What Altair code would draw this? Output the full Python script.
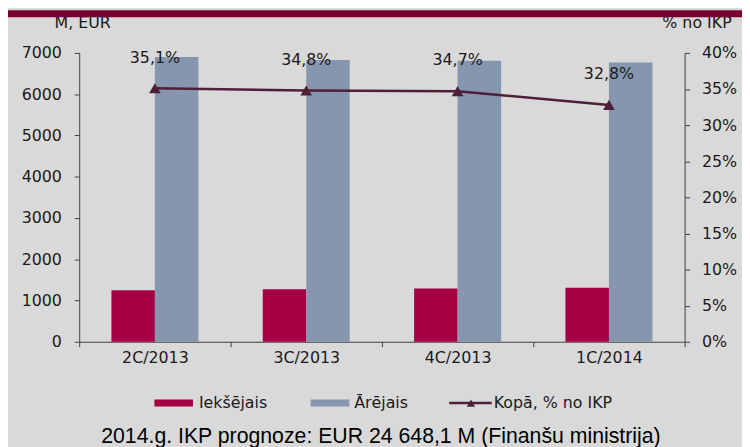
import altair as alt
import pandas as pd

quarters = ["2C/2013", "3C/2013", "4C/2013", "1C/2014"]
domestic = [1250, 1270, 1290, 1310]
external = [6900, 6830, 6810, 6770]
total_pct = [35.1, 34.8, 34.7, 32.8]
series_names = ["Iekšējais", "Ārējais"]
line_name = "Kopā, % no IKP"
left_ticks = [0, 1000, 2000, 3000, 4000, 5000, 6000, 7000]
right_ticks = [0, 0.05, 0.10, 0.15, 0.20, 0.25, 0.30, 0.35, 0.40]
y_title_left = "M, EUR"
y_title_right = "% no IKP"
footnote = "2014.g. IKP prognoze: EUR 24 648,1 M (Finanšu ministrija)"

RED = "#a50044"
BLUE = "#8596ae"
LINE = "#4d2038"
BAND = "#7a0032"
BG = "#d9d9d9"
TXT = "#1a1a1a"
AX = "#404040"
FONT = "DejaVu Sans"
FS = 16

bars_df = pd.DataFrame(
    [{"q": q, "s": series_names[0], "v": d} for q, d in zip(quarters, domestic)]
    + [{"q": q, "s": series_names[1], "v": e} for q, e in zip(quarters, external)]
)
line_df = pd.DataFrame({
    "q": quarters,
    "p": [v / 100 for v in total_pct],
    "lbl": [f"{v:.1f}%".replace(".", ",") for v in total_pct],
})
one = pd.DataFrame({"a": [0]})

x_enc = alt.X(
    "q:N", sort=quarters, title=None,
    scale=alt.Scale(paddingInner=0, paddingOuter=0),
    axis=alt.Axis(labelAngle=0, tickBand="extent", tickSize=5, domainColor=AX,
                  tickColor=AX, labelFontSize=FS, labelColor=TXT, labelFont=FONT,
                  labelPadding=3),
)

bars = alt.Chart(bars_df).mark_bar().encode(
    x=x_enc,
    xOffset=alt.XOffset("s:N", sort=series_names,
                        scale=alt.Scale(paddingInner=0, paddingOuter=0.74)),
    y=alt.Y("v:Q", scale=alt.Scale(domain=[0, 7000], nice=False),
            axis=alt.Axis(values=left_ticks, format="d", title=y_title_left,
                          titleAngle=0, titleX=3, titleY=-31, titleAlign="center",
                          titleBaseline="middle", titleFontSize=FS, titleFontWeight="normal",
                          titleColor=TXT, titleFont=FONT,
                          grid=False, tickSize=5, domainColor=AX, tickColor=AX,
                          labelFontSize=FS, labelColor=TXT, labelFont=FONT,
                          labelPadding=13)),
    color=alt.Color("s:N", scale=alt.Scale(domain=series_names, range=[RED, BLUE]),
                    legend=None),
)

y_right = alt.Y("p:Q", scale=alt.Scale(domain=[0, 0.4], nice=False),
                axis=alt.Axis(orient="right", values=right_ticks, format=".0%",
                              title=y_title_right, titleAngle=0, titleX=12, titleY=-31,
                              titleAlign="center", titleBaseline="middle",
                              titleFontSize=FS, titleFontWeight="normal",
                              titleColor=TXT, titleFont=FONT,
                              grid=False, tickSize=5, domainColor=AX, tickColor=AX,
                              labelFontSize=FS, labelColor=TXT, labelFont=FONT,
                              labelPadding=12))

base_line = alt.Chart(line_df).encode(x=alt.X("q:N", sort=quarters), y=y_right)
line = base_line.mark_line(color=LINE, strokeWidth=2.5)
pts = base_line.mark_point(shape="triangle-up", filled=True, size=140, color=LINE, opacity=1)
lbls = base_line.mark_text(dy=-31, fontSize=FS, color=TXT, font=FONT).encode(text="lbl:N")
right_layer = alt.layer(line, pts, lbls)

# decorations (top band, legend, footnote)
band = alt.Chart(one).mark_rect(color=BAND).encode(
    x=alt.value(-72), x2=alt.value(680), y=alt.value(-43), y2=alt.value(-36))

leg_y = 354
leg_red = alt.Chart(one).mark_rect(color=RED).encode(
    x=alt.value(76), x2=alt.value(115), y=alt.value(leg_y - 3.5), y2=alt.value(leg_y + 3.5))
leg_red_t = alt.Chart(one).mark_text(align="left", baseline="middle", fontSize=FS,
                                     color=TXT, font=FONT, text=series_names[0]).encode(
    x=alt.value(121), y=alt.value(leg_y))
leg_blue = alt.Chart(one).mark_rect(color=BLUE).encode(
    x=alt.value(234), x2=alt.value(273), y=alt.value(leg_y - 3.5), y2=alt.value(leg_y + 3.5))
leg_blue_t = alt.Chart(one).mark_text(align="left", baseline="middle", fontSize=FS,
                                      color=TXT, font=FONT, text=series_names[1]).encode(
    x=alt.value(278), y=alt.value(leg_y))
leg_line = alt.Chart(one).mark_rule(color=LINE, strokeWidth=2.5).encode(
    x=alt.value(374), x2=alt.value(417), y=alt.value(leg_y))
leg_pt = alt.Chart(one).mark_point(shape="triangle-up", filled=True, size=70,
                                   color=LINE, opacity=1).encode(
    x=alt.value(396), y=alt.value(leg_y))
leg_line_t = alt.Chart(one).mark_text(align="left", baseline="middle", fontSize=FS,
                                      color=TXT, font=FONT, text=line_name).encode(
    x=alt.value(419), y=alt.value(leg_y))
foot = alt.Chart(one).mark_text(align="center", baseline="middle", fontSize=21.5,
                                color="#000000", font="Liberation Sans", text=footnote).encode(
    x=alt.value(305), y=alt.value(388))

chart = alt.layer(
    bars, right_layer, band, leg_red, leg_red_t, leg_blue, leg_blue_t,
    leg_line, leg_pt, leg_line_t, foot
).resolve_scale(y="independent").properties(
    width=612, height=292,
    padding={"left": 72, "top": 43, "right": 58, "bottom": 104},
    autosize=alt.AutoSizeParams(type="none"),
    background=BG,
).configure_view(stroke=None)

chart.save("out.html", embed_options={"renderer": "svg", "actions": False})
